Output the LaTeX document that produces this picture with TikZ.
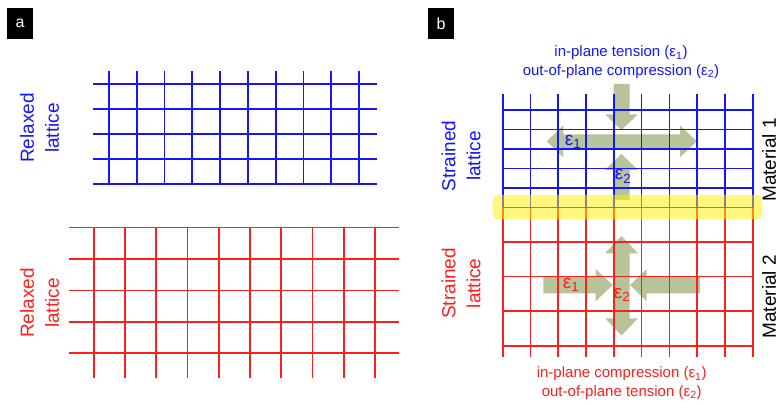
\documentclass[tikz,border=0pt]{standalone}
\usepackage{fontspec}
\setmainfont{Liberation Sans}
\definecolor{arrowgreen}{RGB}{183,196,154}
\definecolor{gblue}{RGB}{20,20,255}
\definecolor{gred}{RGB}{255,30,30}
\tikzset{
  bgrid/.style={draw=gblue, line width=1.7pt},
  rgrid/.style={draw=gred, line width=1.6pt},
  strainarrow/.style={fill=arrowgreen, draw=none},
  panellabel/.style={fill=black, text=white, minimum width=26pt, minimum height=31pt, inner sep=0pt, font=\fontsize{16}{16}\selectfont},
  sidelabel/.style={rotate=90, align=center, font=\fontsize{19}{25}\selectfont},
  captext/.style={align=center, font=\fontsize{15}{18.7}\selectfont},
  epslabel/.style={font=\fontsize{19}{19}\selectfont, inner sep=0pt}
}
\begin{document}
\begin{tikzpicture}[x=1pt,y=-1pt]
\useasboundingbox (0,0) rectangle (780,403);
% ---------------- panel a ----------------
\node[panellabel] (la) at (20,23.5) {a};
% blue relaxed lattice
\foreach \i in {0,...,9} \draw[bgrid] ({109+27.78*\i},71) -- ({109+27.78*\i},184);
\foreach \j in {0,...,4} \draw[bgrid] (92.7,{84+25*\j}) -- (376.7,{84+25*\j});
% red relaxed lattice
\foreach \i in {0,...,9} \draw[rgrid] ({93.7+31.26*\i},227.7) -- ({93.7+31.26*\i},377.7);
\foreach \j in {0,...,4} \draw[rgrid] (69,{227.7+31.4*\j}) -- (399.3,{227.7+31.4*\j});
\node[sidelabel, text=gblue] (rlb) at (39.5,128) {Relaxed\\lattice};
\node[sidelabel, text=gred] (rlr) at (39.5,303) {Relaxed\\lattice};
% ---------------- panel b ----------------
\node[panellabel] (lb) at (441,23.5) {b};
% arrows (behind grids)
% blue: top down arrow
\fill[strainarrow] (613.5,84) -- (629.5,84) -- (629.5,114.3) -- (638,114.3) -- (621.5,130) -- (605,114.3) -- (613.5,114.3) -- cycle;
% blue: horizontal double arrow
\fill[strainarrow] (546.7,141.3) -- (563.3,125.3) -- (563.3,134.3) -- (680,134.3) -- (680,125.3) -- (696.7,141.3) -- (680,157.3) -- (680,148.3) -- (563.3,148.3) -- (563.3,157.3) -- cycle;
% blue: bottom up arrow
\fill[strainarrow] (621.5,154) -- (638,170) -- (629.5,170) -- (629.5,200) -- (613.5,200) -- (613.5,170) -- (605,170) -- cycle;
% red: right-pointing arrow
\fill[strainarrow] (543.3,276.7) -- (595.7,276.7) -- (595.7,269) -- (612.7,285) -- (595.7,301.3) -- (595.7,293.3) -- (543.3,293.3) -- cycle;
% red: left-pointing arrow
\fill[strainarrow] (700,276.7) -- (646.7,276.7) -- (646.7,269) -- (630,285) -- (646.7,301.3) -- (646.7,293.3) -- (700,293.3) -- cycle;
% red: vertical double arrow
\fill[strainarrow] (621.5,236) -- (638,253.3) -- (629.7,253.3) -- (629.7,318.3) -- (638,318.3) -- (621.5,335.5) -- (605,318.3) -- (613.3,318.3) -- (613.3,253.3) -- (605,253.3) -- cycle;
% red strained lattice
\foreach \i in {0,...,9} \draw[rgrid] ({502.7+27.78*\i},207.5) -- ({502.7+27.78*\i},356.7);
\foreach \j in {0,...,4} \draw[rgrid] (502.7,{207.5+34.6*\j}) -- (752.7,{207.5+34.6*\j});
% blue strained lattice
\foreach \i in {0,...,9} \draw[bgrid] ({502.7+27.78*\i},94.3) -- ({502.7+27.78*\i},207.5);
\foreach \j in {0,...,5} \draw[bgrid] (502.7,{110+19.5*\j}) -- (752.7,{110+19.5*\j});
% interface band
\fill[yellow, opacity=0.5, rounded corners=5pt] (492.7,195) rectangle (762.3,219.3);
% labels
\node[epslabel, text=gblue] (e1b) at (573,141.5) {ε\textsubscript{1}};
\node[epslabel, text=gblue] (e2b) at (623,176.5) {ε\textsubscript{2}};
\node[epslabel, text=gred] (e1r) at (571,285) {ε\textsubscript{1}};
\node[epslabel, text=gred] (e2r) at (622,295) {ε\textsubscript{2}};
\node[captext, text=gblue] (ctop) at (621,62.3) {in-plane tension (ε\textsubscript{1})\\out-of-plane compression (ε\textsubscript{2})};
\node[captext, text=gred] (cbot) at (621.7,383.3) {in-plane compression (ε\textsubscript{1})\\out-of-plane tension (ε\textsubscript{2})};
\node[sidelabel, text=gblue] (slb) at (461,156) {Strained\\lattice};
\node[sidelabel, text=gred] (slr) at (461,283.3) {Strained\\lattice};
\node[sidelabel, text=black, inner sep=0pt] (m1) at (769,160) {Material 1};
\node[sidelabel, text=black, inner sep=0pt] (m2) at (769,296.7) {Material 2};
\end{tikzpicture}
\end{document}
